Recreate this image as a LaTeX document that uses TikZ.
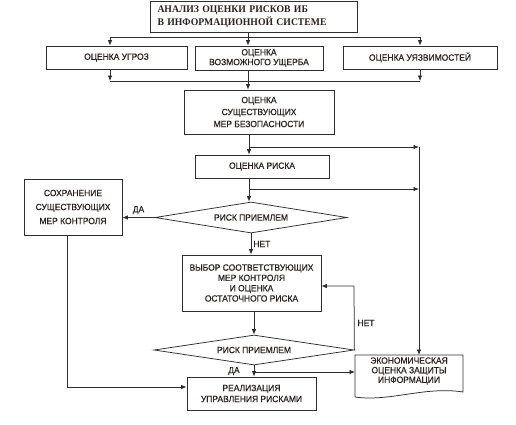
\documentclass[tikz,border=0pt]{standalone}
\usepackage{fontspec}
\setmainfont{Liberation Sans}[FakeStretch=0.94,FakeBold=0.4]
\newfontfamily\titlefont{Liberation Serif}[FakeStretch=0.95]
\usetikzlibrary{arrows.meta,shapes.geometric}
\definecolor{linec}{HTML}{2E2E2E}
\definecolor{textc}{HTML}{2A2220}
\begin{document}
\begin{tikzpicture}[x=1pt,y=-1pt,
  line/.style={draw=linec, line width=0.75pt},
  arr/.style={line, -{Latex[length=5.5pt,width=4.5pt]}},
  box/.style={draw=linec, line width=0.75pt, rectangle, inner sep=1pt, align=center,
    font=\fontsize{9}{10.5}\selectfont, text=textc},
  dia/.style={draw=linec, line width=0.75pt, diamond, aspect=6, inner sep=0pt,
    font=\fontsize{9}{10}\selectfont, text=textc},
  lab/.style={font=\fontsize{9}{10}\selectfont, text=textc, inner sep=1pt}]
\useasboundingbox (0,0) rectangle (516,424);
\fill[white] (0,0) rectangle (516,424);

% title
\node[draw=linec, line width=1pt, rectangle, minimum width=207pt, minimum height=31pt,
  text width=192pt, align=left, inner sep=0pt, text=textc,
  font=\titlefont\bfseries\fontsize{10.2}{12.5}\selectfont] (title) at (253.5,16.5)
  {АНАЛИЗ ОЦЕНКИ РИСКОВ ИБ\\В ИНФОРМАЦИОННОЙ СИСТЕМЕ};

% top row
\node[box, minimum width=141pt, minimum height=23pt] (b1) at (116.5,57.5) {ОЦЕНКА УГРОЗ};
\node[box, minimum width=128pt, minimum height=24pt, font=\fontsize{9}{9.8}\selectfont] (b2) at (259,58) {ОЦЕНКА\\ВОЗМОЖНОГО УЩЕРБА};
\node[box, minimum width=154pt, minimum height=23pt] (b3) at (420,57.5) {ОЦЕНКА УЯЗВИМОСТЕЙ};

\node[box, minimum width=150pt, minimum height=44pt, font=\fontsize{9}{12}\selectfont] (b4) at (259,112) {ОЦЕНКА\\СУЩЕСТВУЮЩИХ\\МЕР БЕЗОПАСНОСТИ};
\node[box, minimum width=134pt, minimum height=23pt] (b5) at (262,166.5) {ОЦЕНКА РИСКА};

\node[dia, minimum width=192pt, minimum height=31pt] (d1) at (251,217.5) {РИСК ПРИЕМЛЕМ};
\node[box, minimum width=98pt, minimum height=56pt, font=\fontsize{9}{14}\selectfont] (sohr) at (73,207) {СОХРАНЕНИЕ\\СУЩЕСТВУЮЩИХ\\МЕР КОНТРОЛЯ};
\node[box, minimum width=139pt, minimum height=56pt, font=\fontsize{9}{10.3}\selectfont] (b6) at (251.5,283) {ВЫБОР СООТВЕТСТВУЮЩИХ\\МЕР КОНТРОЛЯ\\И ОЦЕНКА\\ОСТАТОЧНОГО РИСКА};
\node[dia, minimum width=200pt, minimum height=30pt] (d2) at (254,350) {РИСК ПРИЕМЛЕМ};
\node[box, minimum width=129pt, minimum height=33pt, font=\fontsize{9}{11}\selectfont] (real) at (251.5,393.5) {РЕАЛИЗАЦИЯ\\УПРАВЛЕНИЯ РИСКАМИ};

% document shape
\draw[line] (355,355) -- (463,355) -- (463,392)
  .. controls (425,386) and (390,402) .. (355,397) -- cycle;
\node[lab, align=center, font=\fontsize{9}{9.6}\selectfont] (econ) at (409,371) {ЭКОНОМИЧЕСКАЯ\\ОЦЕНКА ЗАЩИТЫ\\ИНФОРМАЦИИ};
\coordinate (econtop) at (419,355);
\coordinate (econleft) at (355,372);

% junctions
\coordinate (t1) at (248,37);
\coordinate (tl) at (110,37);
\coordinate (tr) at (420,37);
\coordinate (m1) at (110,81);
\coordinate (m3) at (420,81);
\coordinate (r1) at (249,147);
\coordinate (r2) at (249,189);
\coordinate (rv1) at (419,147);
\coordinate (rv2) at (419,189);
\coordinate (nc) at (354,286);
\coordinate (yb) at (254,372);
\coordinate (lc) at (67,387);

% top connectors
\draw[line] (title.south -| t1) -- (t1);
\draw[line] (tl) -- (tr);
\draw[arr] (tl) -- (tl |- b1.north);
\draw[arr] (t1) -- (t1 |- b2.north);
\draw[arr] (tr) -- (tr |- b3.north);
\draw[arr] (m1 |- b1.south) -- (m1);
\draw[arr] (m3 |- b3.south) -- (m3);
\draw[line] (m1) -- (m3);
\draw[arr] (t1 |- b2.south) -- (t1 |- b4.north);

% middle
\draw[arr] (r1 |- b4.south) -- (r1 |- b5.north);
\draw[arr] (r1) -- (rv1);
\draw[arr] (r2 |- b5.south) -- (r2 |- d1.north);
\draw[arr] (r2) -- (rv2);
\draw[arr] (rv1) -- (econtop);

\draw[arr] (d1.west) -- (d1.west -| sohr.east) node[lab, midway, above=2pt] {ДА};
\draw[arr] (d1.south) -- (d1.south |- b6.north) node[lab, midway, right=1pt] {НЕТ};
\draw[arr] (b6.south -| d2.north) -- (d2.north);
\draw[arr] (d2.east) -- (nc) -- (nc -| b6.east);
\node[lab] (net2) at (366,323) {НЕТ};
\draw[arr] (d2.south) -- (d2.south |- real.north);
\node[lab] (da2) at (234,371) {ДА};
\draw[arr] (yb) -- (econleft);
\draw[arr] (sohr.south -| lc) -- (lc) -- (lc -| real.west);
\end{tikzpicture}
\end{document}
